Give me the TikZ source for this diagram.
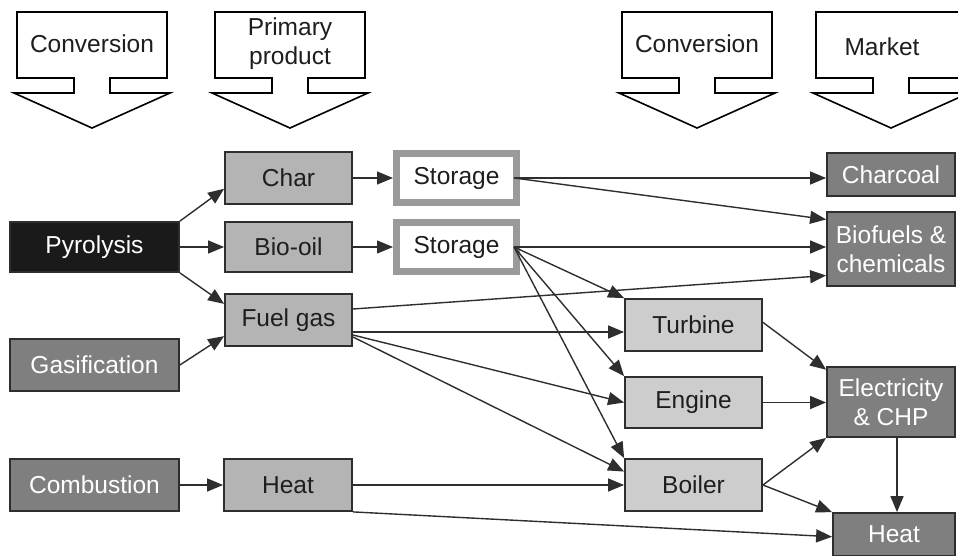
\documentclass[tikz,border=0pt]{standalone}
\usepackage{fontspec}
\setmainfont{Liberation Sans}
\usetikzlibrary{arrows.meta,calc}
\definecolor{prodgrey}{HTML}{B4B4B4}
\definecolor{convgrey}{HTML}{CDCDCD}
\definecolor{darkbox}{HTML}{7F7F7F}
\definecolor{blackbox}{HTML}{1A1A1A}
\definecolor{edgecol}{HTML}{2E2E2E}
\definecolor{storeedge}{HTML}{9A9A9A}
\definecolor{txtcol}{HTML}{1E1E1E}
\newcommand\bannerarrow[2]{%
  \draw[banner] ({#1-75},12) -- ({#1+75},12) -- ({#1+75},78) -- ({#1+18},78) -- ({#1+18},93)
    -- ({#1+78},93) -- (#1,128) -- ({#1-78},93) -- ({#1-18},93) -- ({#1-18},78) -- ({#1-75},78) -- cycle;
}
\begin{document}
\begin{tikzpicture}[x=1pt,y=-1pt,
  txt/.style={font=\fontsize{24.5}{29}\selectfont, text=txtcol, align=center},
  base/.style={txt, draw=edgecol, line width=1.8pt, inner sep=0pt},
  prod/.style={base, fill=prodgrey},
  conv/.style={base, fill=convgrey},
  mkt/.style={base, fill=darkbox, text=white},
  blk/.style={base, fill=blackbox, text=white},
  store/.style={txt, draw=storeedge, line width=7pt, fill=white, inner sep=0pt, minimum width=120pt, minimum height=49pt},
  link/.style={draw=edgecol, line width=1.4pt, -{Triangle[length=16pt,width=13pt]}},
  banner/.style={draw=black, line width=1.6pt, fill=white, line join=miter}
]
\useasboundingbox (0,0) rectangle (958,556);
\clip (0,0) rectangle (958,556);

% header arrows
\bannerarrow{92}{a}
\bannerarrow{290}{b}
\bannerarrow{697}{c}
\bannerarrow{891}{d}
\node[txt] (h1) at (92,44) {Conversion};
\node[txt] (h2) at (290,43.5) {Primary\\product};
\node[txt] (h3) at (697,44) {Conversion};
\node[txt] (h4) at (882,47) {Market};

% process nodes
\node[blk, minimum width=169pt, minimum height=50pt] (pyro) at (94.5,247) {Pyrolysis};
\node[mkt, minimum width=169pt, minimum height=52pt] (gas) at (94.5,365) {Gasification};
\node[mkt, minimum width=169pt, minimum height=52pt] (comb) at (94.5,485) {Combustion};

% primary products
\node[prod, minimum width=127pt, minimum height=52pt] (char) at (288.5,178) {Char};
\node[prod, minimum width=127pt, minimum height=50pt] (bio) at (288.5,247) {Bio-oil};
\node[prod, minimum width=127pt, minimum height=52pt] (fuel) at (288.5,320) {Fuel gas};
\node[prod, minimum width=128pt, minimum height=52pt] (heatp) at (288,485) {Heat};

% storage
\node[store] (st1) at (456.5,178) {Storage};
\node[store] (st2) at (456.5,247) {Storage};

% conversion
\node[conv, minimum width=137pt, minimum height=52pt] (turb) at (693.5,325) {Turbine};
\node[conv, minimum width=137pt, minimum height=51pt] (eng) at (693.5,402.5) {Engine};
\node[conv, minimum width=137pt, minimum height=52pt] (boil) at (693.5,485) {Boiler};

% market
\node[mkt, minimum width=128pt, minimum height=43pt] (charc) at (891,174.5) {Charcoal};
\node[mkt, minimum width=128pt, minimum height=74pt] (biof) at (891,249) {Biofuels \&\\chemicals};
\node[mkt, minimum width=128pt, minimum height=70pt] (elec) at (891,402) {Electricity\\\& CHP};
\node[mkt, minimum width=122pt, minimum height=43pt] (heatm) at (894,534.5) {Heat};

% origin coordinates
\coordinate (s1o) at (514,178);
\coordinate (s2o) at (514,247);
\coordinate (f1) at (353,309);
\coordinate (f2) at (353,332);
\coordinate (f3) at (353,335);
\coordinate (f4) at (353,337);

% connectors
\draw[link] (pyro.north east) -- ($(char.south west)!0.3!(char.north west)$);
\draw[link] (pyro.east) -- (bio.west);
\draw[link] (pyro.south east) -- ($(fuel.north west)!0.2!(fuel.south west)$);
\draw[link] (gas.east) -- ($(fuel.north west)!0.8!(fuel.south west)$);
\draw[link] (comb.east) -- (heatp.west);
\draw[link] (char.east) -- (st1.west);
\draw[link] (bio.east) -- (st2.west);

\draw[link] (s1o) -- (s1o -| charc.west);
\draw[link] (s1o) -- ($(biof.north west)!0.11!(biof.south west)$);
\draw[link] (s2o) -- (s2o -| biof.west);
\draw[link] (s2o) -- (turb.north west);
\draw[link] (s2o) -- (eng.north west);
\draw[link] (s2o) -- (boil.north west);

\draw[link] (f1) -- ($(biof.north west)!0.85!(biof.south west)$);
\draw[link] (f2) -- (f2 -| turb.west);
\draw[link] (f3) -- (eng.west);
\draw[link] (f4) -- ($(boil.north west)!0.25!(boil.south west)$);

\draw[link] (heatp.east) -- (boil.west);
\draw[link] (heatp.south east) -- ($(heatm.north west)!0.55!(heatm.south west)$);

\draw[link] ($(turb.north east)!0.45!(turb.south east)$) -- ($(elec.north west)!0.05!(elec.south west)$);
\draw[link] (eng.east) -- (eng.east -| elec.west);
\draw[link] (boil.east) -- (elec.south west);
\draw[link] (boil.east) -- (heatm.north west);
\draw[link] ([xshift=6pt]elec.south) -- ([xshift=6pt]elec.south |- heatm.north);
\end{tikzpicture}
\end{document}
